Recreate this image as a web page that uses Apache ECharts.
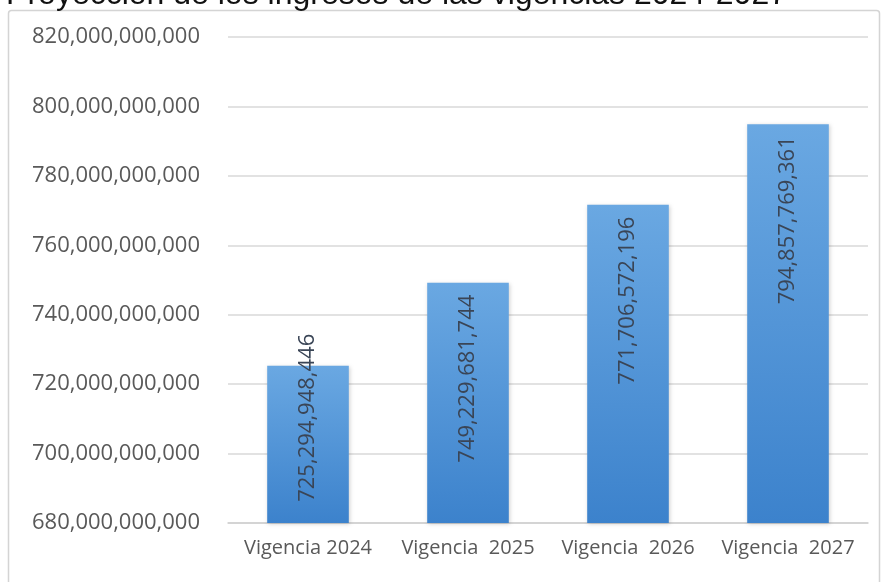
<!DOCTYPE html>
<html><head><meta charset="utf-8">
<script src="https://cdn.jsdelivr.net/npm/echarts@6/dist/echarts.min.js"></script>
<style>html,body{margin:0;padding:0;background:#fff}#c{width:886px;height:582px}</style>
</head><body><div id="c"></div>
<script>
const categories = ['Vigencia 2024', 'Vigencia  2025', 'Vigencia  2026', 'Vigencia  2027'];
const ingresos = [725294948446, 749229681744, 771706572196, 794857769361];
const yMin = 680000000000, yMax = 820000000000, yStep = 20000000000;
const titleText = '1. Proyección de los ingresos de las vigencias 2024-2027';

const fmt = v => Math.round(v).toString().replace(/\B(?=(\d{3})+(?!\d))/g, ',');
const font = '"Open Sans", sans-serif';

const chart = echarts.init(document.getElementById('c'), null, {renderer: 'canvas'});
const data = ingresos.map((v, i) => i === 0
  ? {value: v, label: {offset: [44, 0]}}
  : v);

chart.setOption({
  animation: false,
  backgroundColor: '#fff',
  graphic: [
    {type: 'rect', z: -10, shape: {x: 8.5, y: 10.5, width: 871, height: 580, r: 3},
     style: {fill: '#fff', stroke: '#d4d4d4', lineWidth: 1.5}},
    {type: 'text', z: 10,
     style: {text: titleText, x: 787, y: 11, align: 'right', verticalAlign: 'bottom',
             font: '32px "Liberation Sans", Arial, sans-serif', fill: '#111'}}
  ],
  grid: {left: 228, right: 18, top: 37, bottom: 59},
  xAxis: {
    type: 'category', data: categories,
    axisTick: {show: false},
    axisLine: {lineStyle: {color: '#d0d0d0', width: 1.5}},
    axisLabel: {color: '#595959', fontFamily: font, fontSize: 20, margin: 15,
                interval: 0, hideOverlap: false}
  },
  yAxis: {
    type: 'value', min: yMin, max: yMax, interval: yStep,
    axisLabel: {color: '#595959', fontFamily: font, fontSize: 22, margin: 28, formatter: fmt},
    splitLine: {lineStyle: {color: '#d9d9d9', width: 1.5}},
    axisLine: {show: false}, axisTick: {show: false}
  },
  series: [{
    type: 'bar', data: data, barWidth: '51%',
    itemStyle: {
      color: new echarts.graphic.LinearGradient(0, 0, 0, 1, [
        {offset: 0, color: '#6aa8e2'}, {offset: 1, color: '#3c82cc'}
      ]),
      shadowColor: 'rgba(0,0,0,0.18)', shadowBlur: 4, shadowOffsetX: 1, shadowOffsetY: 1
    },
    label: {
      show: true, position: 'insideTop', distance: 12, rotate: 90,
      align: 'right', verticalAlign: 'middle',
      color: '#3a4556', fontFamily: font, fontSize: 22,
      formatter: p => fmt(p.value)
    }
  }]
});
</script></body></html>
